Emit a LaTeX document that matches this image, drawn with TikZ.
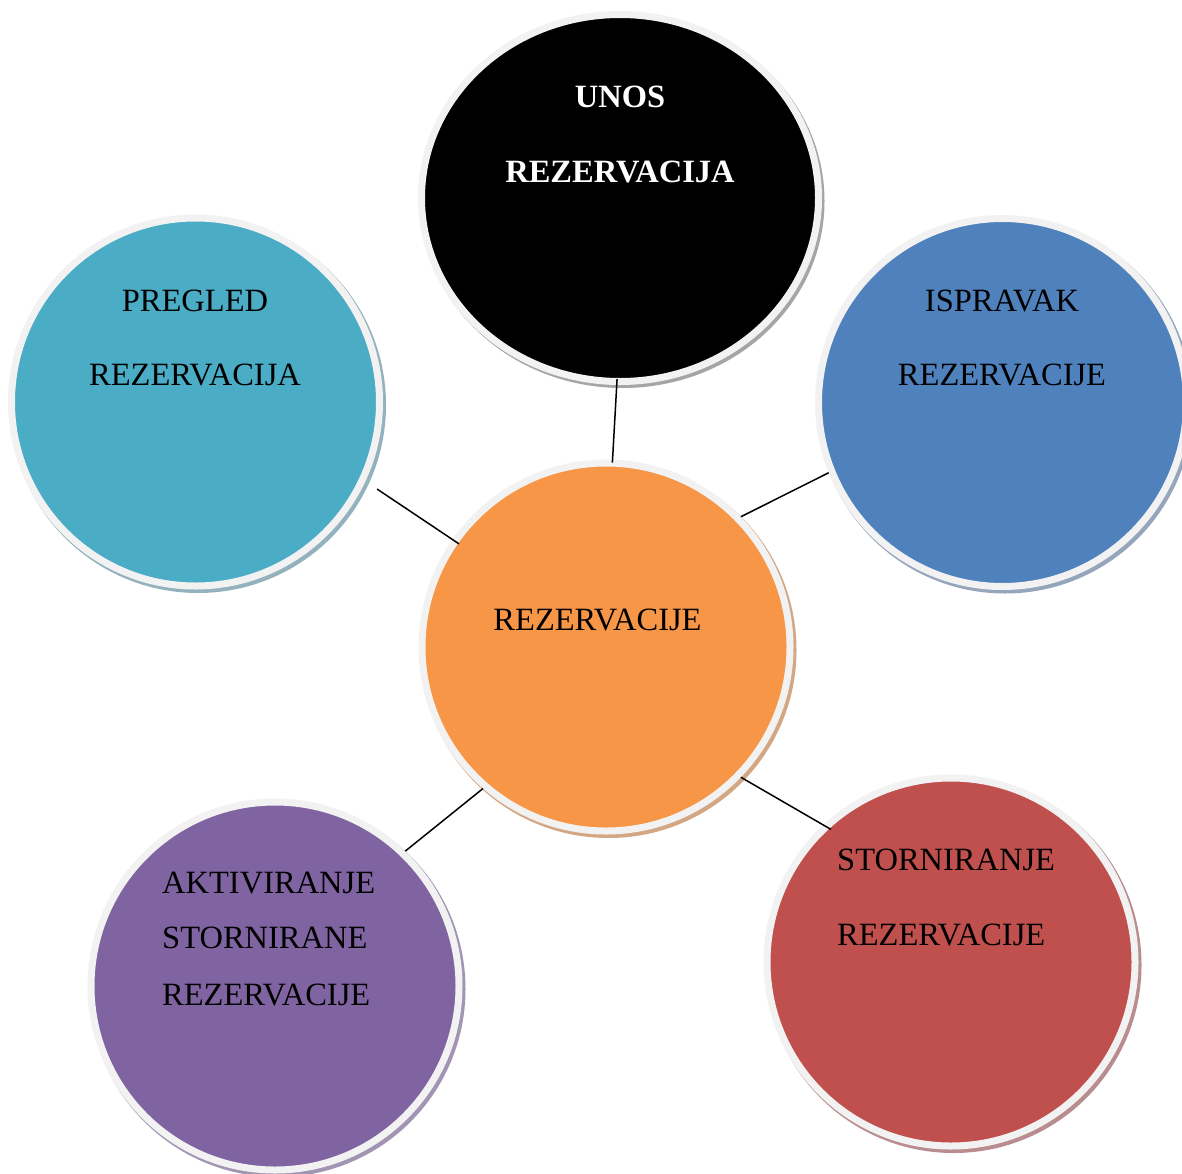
\documentclass[tikz,border=0pt]{standalone}
\usepackage{fontspec}
\setmainfont{Liberation Serif}
\usetikzlibrary{shapes.geometric}
\definecolor{ringgray}{HTML}{F2F2F2}
\definecolor{cteal}{HTML}{4BACC6}
\definecolor{cblue}{HTML}{4F81BD}
\definecolor{corange}{HTML}{F79646}
\definecolor{cred}{HTML}{C0504D}
\definecolor{cpurple}{HTML}{8064A2}
\definecolor{steal}{HTML}{93B2BD}
\definecolor{sblue}{HTML}{94A5BC}
\definecolor{sorange}{HTML}{D4A784}
\definecolor{sred}{HTML}{B98D8F}
\definecolor{spurple}{HTML}{A195B3}
\definecolor{sblack}{HTML}{A5A5A5}
\tikzset{
  bubble/.style={circle, inner sep=0pt, line width=7pt, draw=ringgray, fill=#1, minimum size=368pt},
  bubbleshadow/.style={circle, inner sep=0pt, fill=#1, minimum size=376pt},
  conn/.style={draw=black, line width=1.5pt},
  lbl/.style={inner sep=0pt, anchor=base, font=\fontsize{32.5}{38}\selectfont},
  lblw/.style={lbl, anchor=base west},
}
\begin{document}
\begin{tikzpicture}[x=1pt,y=-1pt]
\useasboundingbox (0,0) rectangle (1182,1173);
% shadows
\node[bubbleshadow=steal]   (tealS)   at (198.0,405.0) {};
\node[bubbleshadow=sblue]   (blueS)   at (1005.0,405.5) {};
\node[bubbleshadow=sorange] (orangeS) at (608.5,650.0) {};
\node[bubbleshadow=sred]    (redS)    at (953.5,965.0) {};
\node[bubbleshadow=spurple] (purpleS) at (277.5,989.0) {};
\node[ellipse, inner sep=0pt, fill=sblack, minimum width=404pt, minimum height=374pt] (blackS) at (622.5,201) {};
% circles
\node[bubble=cteal]   (teal)   at (195.5,402.0) {};
\node[bubble=cblue]   (blue)   at (1002.5,402.5) {};
\node[bubble=corange] (orange) at (606.0,647.0) {};
\node[bubble=cred]    (red)    at (951.0,962.0) {};
\node[bubble=cpurple] (purple) at (275.0,986.0) {};
\node[ellipse, inner sep=0pt, line width=7pt, draw=ringgray, fill=black, minimum width=397pt, minimum height=367pt] (blk) at (620,198) {};
% connectors
\draw[conn, shorten <=-6pt, shorten >=-3pt] (blk.-91) -- (orange.88);
\draw[conn, shorten <=14pt, shorten >=-8pt] (teal.-25) -- (orange.145);
\draw[conn] (blue.202) -- (orange.44);
\draw[conn] (purple.46) -- (orange.-131);
\draw[conn, shorten <=-9pt] (red.133) -- (orange.-44);
% labels
\node[lbl, text=white, font=\fontsize{32.5}{38}\selectfont\bfseries] (t1a) at (620,107) {UNOS};
\node[lbl, text=white, font=\fontsize{32.5}{38}\selectfont\bfseries] (t1b) at (620,182) {REZERVACIJA};
\node[lbl] (t2a) at (195,311) {PREGLED};
\node[lbl] (t2b) at (195,385) {REZERVACIJA};
\node[lbl] (t3a) at (1002,311) {ISPRAVAK};
\node[lbl] (t3b) at (1002,385) {REZERVACIJE};
\node[lbl] (t4) at (597.5,630) {REZERVACIJE};
\node[lblw] (t5a) at (837,870) {STORNIRANJE};
\node[lblw] (t5b) at (837,945) {REZERVACIJE};
\node[lblw] (t6a) at (162,893) {AKTIVIRANJE};
\node[lblw] (t6b) at (162,948) {STORNIRANE};
\node[lblw] (t6c) at (162,1005) {REZERVACIJE};
\end{tikzpicture}
\end{document}
